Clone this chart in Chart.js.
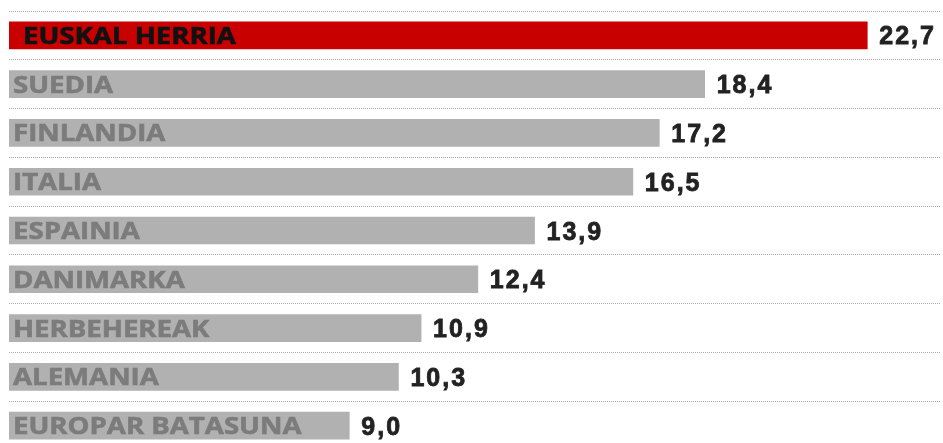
<!DOCTYPE html>
<html>
<head>
<meta charset="utf-8">
<script src="https://cdn.jsdelivr.net/npm/chart.js@4"></script>
<style>
  html, body { margin: 0; padding: 0; background: #fff; }
  #wrap { width: 943px; height: 443px; overflow: hidden; }
  #wrap canvas { display: block; }
</style>
</head>
<body>
<div id="wrap"><canvas id="myChart" width="943" height="450"></canvas></div>
<script>
var countries = ['EUSKAL HERRIA', 'SUEDIA', 'FINLANDIA', 'ITALIA', 'ESPAINIA', 'DANIMARKA', 'HERBEHEREAK', 'ALEMANIA', 'EUROPAR BATASUNA']
var rates = [22.7, 18.4, 17.2, 16.5, 13.9, 12.4, 10.9, 10.3, 9.0]

var barColors = countries.map((c, i) => i == 0 ? '#c80000' : '#b1b1b1')
var nameColors = countries.map((c, i) => i == 0 ? '#111111' : '#7c7c7c')

// names inside the bars, values after the bar ends
const barText = {
  id: 'barText',
  afterDatasetsDraw(chart) {
    const ctx = chart.ctx
    const bars = chart.getDatasetMeta(0).data
    bars.forEach((bar, i) => {
      // country name, slightly widened
      ctx.save()
      ctx.font = 'bold 24px "Open Sans"'
      ctx.letterSpacing = '0px'
      ctx.fillStyle = nameColors[i]
      ctx.strokeStyle = nameColors[i]
      ctx.lineWidth = 0.6
      ctx.textBaseline = 'alphabetic'
      const x0 = bar.base + (i == 0 ? 14 : 4)
      ctx.translate(x0, bar.y + 8.5)
      ctx.scale(1.15, 1)
      ctx.fillText(countries[i], 0, 0)
      ctx.strokeText(countries[i], 0, 0)
      ctx.restore()

      // value
      const txt = rates[i].toFixed(1).replace('.', ',')
      ctx.save()
      ctx.font = 'bold 25px "Liberation Sans"'
      ctx.fillStyle = '#222222'
      ctx.strokeStyle = '#222222'
      ctx.lineWidth = 0.8
      ctx.letterSpacing = '2px'
      ctx.textBaseline = 'alphabetic'
      ctx.fillText(txt, bar.x + 12, bar.y + 9)
      ctx.strokeText(txt, bar.x + 12, bar.y + 9)
      ctx.restore()
    })
  }
}

const ctx = document.getElementById('myChart')
const chart1 = new Chart(ctx, {
  type: 'bar',
  data: {
    labels: countries,
    datasets: [{
      data: rates,
      backgroundColor: barColors,
      barThickness: 27,
      borderWidth: 0
    }]
  },
  options: {
    indexAxis: 'y',
    responsive: false,
    animation: false,
    layout: { padding: { left: 9, right: 2, top: 11, bottom: 0 } },
    plugins: {
      legend: { display: false },
      tooltip: { enabled: false }
    },
    scales: {
      x: {
        display: false,
        min: 0,
        max: 24.65
      },
      y: {
        ticks: { display: false },
        grid: {
          color: '#a8a8a8',
          lineWidth: 1,
          drawTicks: false,
          offset: true
        },
        border: { display: false, dash: [1, 1] }
      }
    }
  },
  plugins: [barText]
});
</script>
</body>
</html>
